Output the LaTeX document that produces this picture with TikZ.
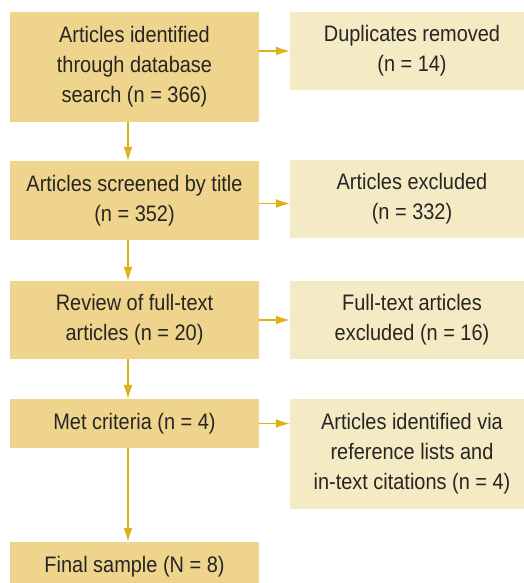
\documentclass[tikz,border=0pt]{standalone}
\usepackage{fontspec}
\setmainfont{Liberation Sans}[FakeStretch=0.89]
\usepackage{xcolor}
\usetikzlibrary{arrows.meta}
\definecolor{stagecol}{HTML}{EED48C}
\definecolor{sidecol}{HTML}{F4EBC4}
\definecolor{flowcol}{HTML}{DFB01A}
\definecolor{inkcol}{HTML}{262524}
\tikzset{x=1pt, y=-1pt,
  stage/.style={fill=stagecol, text=inkcol, minimum width=249pt, inner sep=0pt, align=center, font=\fontsize{22.4}{30}\selectfont},
  side/.style={fill=sidecol, text=inkcol, minimum width=244pt, inner sep=0pt, align=center, font=\fontsize{22.4}{30}\selectfont},
  flow/.style={draw=flowcol, line width=1.2pt, -{Latex[length=14pt,width=9pt]}}}
\newcommand{\stagebox}[3]{node[stage, minimum height=#2pt](#1) {#3}}
\newcommand{\sidebox}[3]{node[side, minimum height=#2pt](#1) {#3}}

\begin{document}
\begin{tikzpicture}
\useasboundingbox (0,0) rectangle (523,583);
\draw (134.5,67) \stagebox{search}{110}{Articles identified\\through database\\search (n = 366)} ;
  \draw (412,51) \sidebox{dupl}{78}{Duplicates removed\\(n = 14)} ;
\draw (134.5,200.5) \stagebox{title}{79}{Articles screened by title\\(n = 352)} ;
  \draw (412,199) \sidebox{excl}{78}{Articles excluded\\(n = 332)} ;
\draw (134.5,320) \stagebox{review}{78}{Review of full-text\\articles (n = 20)} ;
  \draw (412,320) \sidebox{fullexcl}{78}{Full-text articles\\excluded (n = 16)} ;
\draw (134.5,423.5) \stagebox{met}{49}{Met criteria (n = 4)} ;
  \draw (412,454) \sidebox{refs}{110}{Articles identified via\\reference lists and\\in-text citations (n = 4)} ;
\draw (134.5,566.5) \stagebox{final}{49}{Final sample (N = 8)} ;
\draw[flow] ([xshift=-6.5pt]search.south) -- ([xshift=-6.5pt]title.north) ;
\draw[flow] ([xshift=-6.5pt]title.south) -- ([xshift=-6.5pt]review.north) ;
\draw[flow] ([xshift=-6.5pt]review.south) -- ([xshift=-6.5pt]met.north) ;
\draw[flow] ([xshift=-6.5pt]met.south) -- ([xshift=-6.5pt]final.north) ;
\draw[flow] (search.east |- dupl.west) -- (dupl.west) ;
\draw[flow] ([yshift=-3pt]title.east) -- ([yshift=-3pt]title.east -| excl.west) ;
\draw[flow] (review.east) -- (fullexcl.west) ;
\draw[flow] (met.east) -- (met.east -| refs.west) ;
\end{tikzpicture}
\end{document}
